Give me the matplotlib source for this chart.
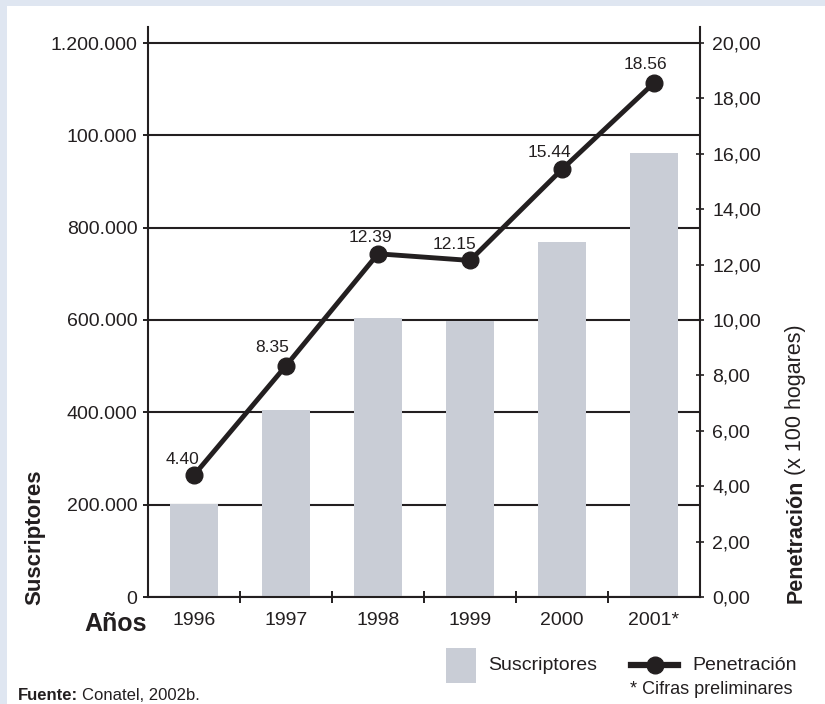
import matplotlib
matplotlib.use('Agg')
import matplotlib.pyplot as plt
import numpy as np
from matplotlib.patches import Rectangle
from matplotlib.lines import Line2D

# Données
annees = ['1996', '1997', '1998', '1999', '2000', '2001*']
suscriptores = [201000, 405000, 604000, 598000, 769000, 962000]
penetracion = [4.40, 8.35, 12.39, 12.15, 15.44, 18.56]
etiquetas_pen = ['4.40', '8.35', '12.39', '12.15', '15.44', '18.56']
ticks_izq = [0, 200000, 400000, 600000, 800000, 1000000, 1200000]
etiquetas_izq = ['0', '200.000', '400.000', '600.000', '800.000', '100.000', '1.200.000']
ticks_der = [0, 2, 4, 6, 8, 10, 12, 14, 16, 18, 20]
etiquetas_der = ['0,00', '2,00', '4,00', '6,00', '8,00', '10,00', '12,00',
                 '14,00', '16,00', '18,00', '20,00']

# décalage des étiquettes (pixels) par rapport aux points
decalages = [(-12, 16), (-14, 18), (-8, 16), (-15, 16), (-13, 17), (-9, 18)]

plt.rcParams['font.family'] = ['Liberation Sans', 'DejaVu Sans']

W, H = 825, 704
couleur_barre = '#c9cdd6'
couleur_ligne = '#231f20'
couleur_bord = '#dfe6f1'
noir = '#231f20'

fig = plt.figure(figsize=(W / 100, H / 100), dpi=100)
fig.patch.set_facecolor('white')

# bordure bleue (haut et gauche)
fig.patches.append(Rectangle((0, 1 - 6 / H), 1, 6 / H, transform=fig.transFigure,
                             facecolor=couleur_bord, edgecolor='none', zorder=0))
fig.patches.append(Rectangle((0, 0), 7 / W, 1, transform=fig.transFigure,
                             facecolor=couleur_bord, edgecolor='none', zorder=0))

x0, x1 = 148, 700
y0, ytop = 597, 27
ax = fig.add_axes([x0 / W, (H - y0) / H, (x1 - x0) / W, (y0 - ytop) / H])
ax.set_facecolor('none')

x = np.arange(len(annees))
ymax = 1200000 * (y0 - ytop) / (y0 - 43)
ax.bar(x, suscriptores, width=0.53, color=couleur_barre, zorder=2)
ax.set_xlim(-0.5, len(annees) - 0.5)
ax.set_ylim(0, ymax)

ax.set_yticks(ticks_izq)
ax.set_yticklabels(etiquetas_izq)
ax.grid(axis='y', color=noir, linewidth=1.5)
ax.set_axisbelow(True)

ax.set_xticks(x)
ax.set_xticklabels(annees)
ax.set_xticks(x[:-1] + 0.5, minor=True)
ax.tick_params(axis='x', which='major', length=0, pad=11, labelsize=14, colors=noir)
ax.tick_params(axis='x', which='minor', direction='inout', length=8, width=1.4, color=noir)
ax.tick_params(axis='y', direction='out', length=3.5, width=1.4, pad=4, labelsize=14, colors=noir)

for s in ['top', 'right']:
    ax.spines[s].set_visible(False)
for s in ['left', 'bottom']:
    ax.spines[s].set_color(noir)
    ax.spines[s].set_linewidth(1.5)

ax2 = ax.twinx()
ax2.set_ylim(0, 20 * ymax / 1200000)
ax2.plot(x, penetracion, color=couleur_ligne, linewidth=3.5, marker='o',
         markersize=12, zorder=5)
for xi, yi, txt, (dx, dy) in zip(x, penetracion, etiquetas_pen, decalages):
    ax2.annotate(txt, (xi, yi), xytext=(dx * 0.72, dy * 0.72), textcoords='offset points',
                 ha='center', va='center', fontsize=12.5, color=noir,
                 family=['Liberation Sans Narrow', 'Liberation Sans'])
ax2.set_yticks(ticks_der)
ax2.set_yticklabels(etiquetas_der)
ax2.tick_params(axis='y', direction='inout', length=6, width=1.2, pad=6,
                labelsize=14, colors=noir)
for s in ['top', 'left', 'bottom']:
    ax2.spines[s].set_visible(False)
ax2.spines['right'].set_color(noir)
ax2.spines['right'].set_linewidth(1.5)

def fx(px):
    return px / W

def fy(py):
    return (H - py) / H

# titres des axes
fig.text(fx(147), fy(631), 'Años', ha='right', va='baseline', fontsize=18,
         fontweight='bold', color=noir)
fig.text(fx(35), fy(605), 'Suscriptores', rotation=90, rotation_mode='anchor',
         ha='left', va='center', fontsize=16, fontweight='bold', color=noir)
t_pen = fig.text(fx(796), fy(603), 'Penetración', rotation=90, rotation_mode='anchor',
                 ha='left', va='center', fontsize=15.5, fontweight='bold', color=noir)

# légende
fig.patches.append(Rectangle((fx(446), fy(683)), 30 / W, 35 / H, transform=fig.transFigure,
                             facecolor=couleur_barre, edgecolor='none'))
fig.text(fx(488), fy(665), 'Suscriptores', ha='left', va='center', fontsize=14, color=noir)
fig.add_artist(Line2D([fx(631), fx(678)], [fy(665), fy(665)], transform=fig.transFigure,
                      color=couleur_ligne, linewidth=4.5))
fig.add_artist(Line2D([fx(654.5)], [fy(665)], transform=fig.transFigure, marker='o',
                      markersize=12, color=couleur_ligne))
fig.text(fx(692), fy(665), 'Penetración', ha='left', va='center', fontsize=14, color=noir)
fig.text(fx(793), fy(690), '* Cifras preliminares', ha='right', va='center',
         fontsize=13, color=noir)

t_fuente = fig.text(fx(18), fy(700), 'Fuente:', ha='left', va='baseline', fontsize=12,
                    fontweight='bold', color=noir)

fig.canvas.draw()
r = fig.canvas.get_renderer()
bb = t_pen.get_window_extent(r)
fig.text(fx(796), (bb.y1 + 5) / H, '(x 100 hogares)', rotation=90, rotation_mode='anchor',
         ha='left', va='center', fontsize=15.5, color=noir)
bb2 = t_fuente.get_window_extent(r)
fig.text((bb2.x1 + 4) / W, fy(700), 'Conatel, 2002b.', ha='left', va='baseline',
         fontsize=12, color=noir)

fig.savefig('out.png', dpi=100)
